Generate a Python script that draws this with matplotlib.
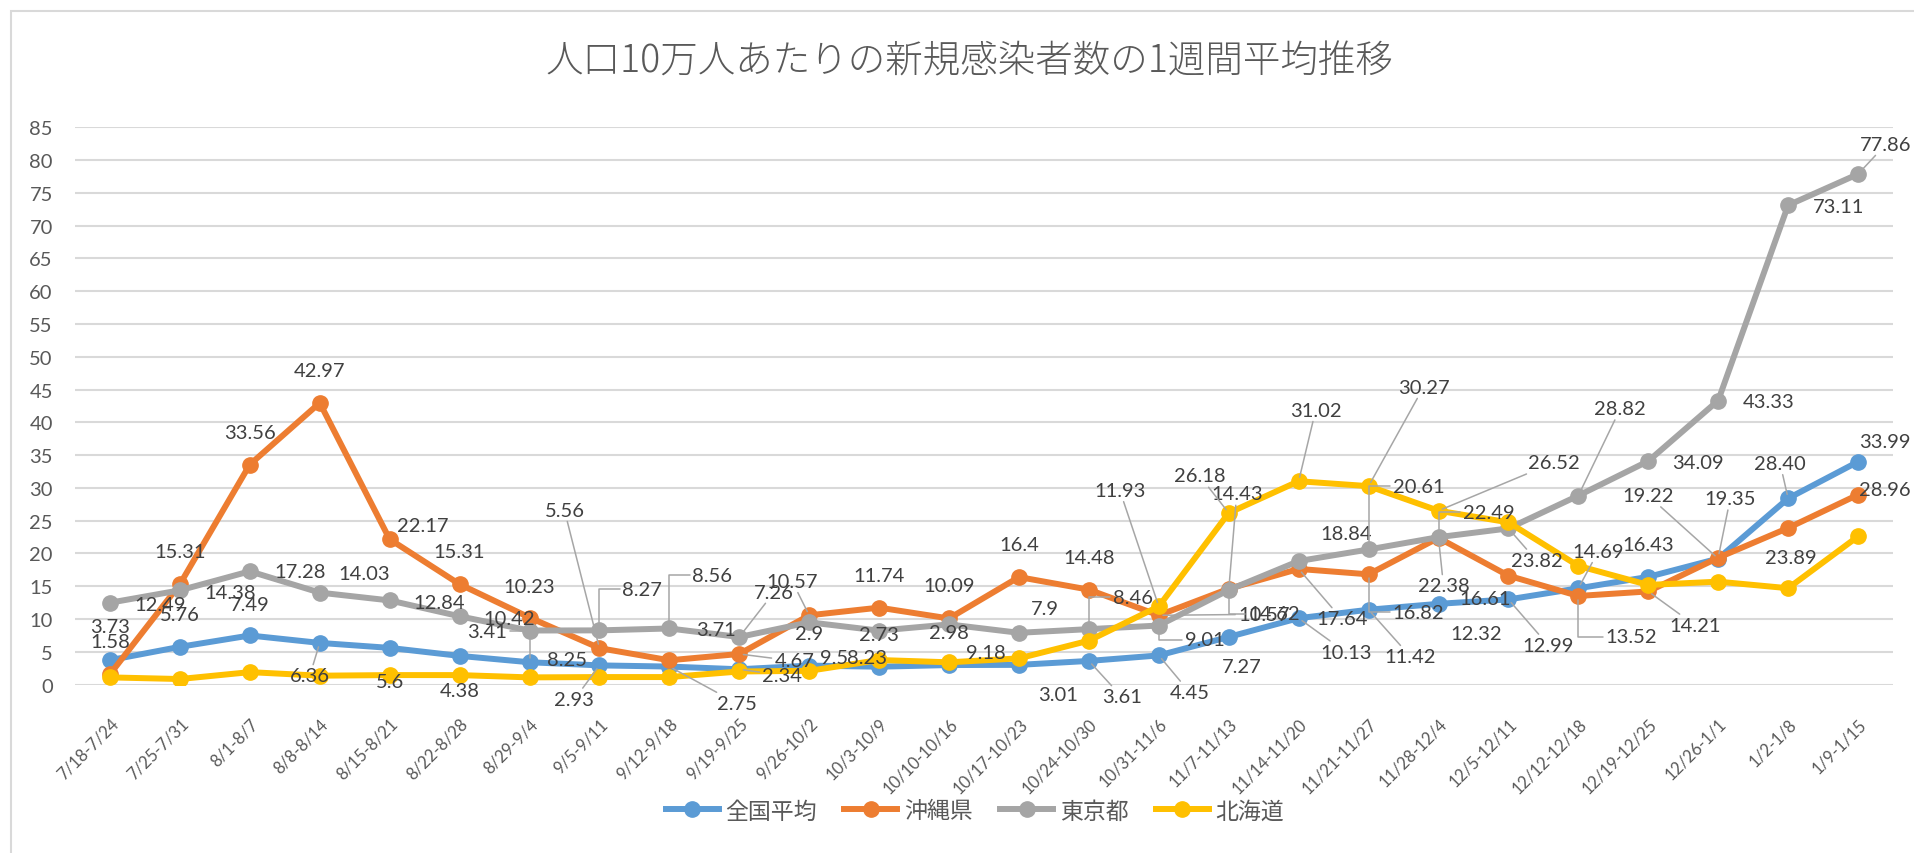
import matplotlib
matplotlib.use('Agg')
import matplotlib.pyplot as plt
from matplotlib.patches import Rectangle

plt.rcParams['font.family'] = ['Lato', 'Noto Sans CJK JP', 'DejaVu Sans']

TITLE = '人口10万人あたりの新規感染者数の1週間平均推移'

weeks = ['7/18-7/24', '7/25-7/31', '8/1-8/7', '8/8-8/14', '8/15-8/21', '8/22-8/28',
         '8/29-9/4', '9/5-9/11', '9/12-9/18', '9/19-9/25', '9/26-10/2', '10/3-10/9',
         '10/10-10/16', '10/17-10/23', '10/24-10/30', '10/31-11/6', '11/7-11/13',
         '11/14-11/20', '11/21-11/27', '11/28-12/4', '12/5-12/11', '12/12-12/18',
         '12/19-12/25', '12/26-1/1', '1/2-1/8', '1/9-1/15']

series_names = ['全国平均', '沖縄県', '東京都', '北海道']

national = [3.73, 5.76, 7.49, 6.36, 5.6, 4.38, 3.41, 2.93, 2.75, 2.34, 2.9, 2.73, 2.98,
            3.01, 3.61, 4.45, 7.27, 10.13, 11.42, 12.32, 12.99, 14.69, 16.43, 19.22,
            28.40, 33.99]
okinawa = [1.58, 15.31, 33.56, 42.97, 22.17, 15.31, 10.23, 5.56, 3.71, 4.67, 10.57,
           11.74, 10.09, 16.4, 14.48, 10.57, 14.62, 17.64, 16.82, 22.38, 16.61, 13.52,
           14.21, 19.35, 23.89, 28.96]
tokyo = [12.49, 14.38, 17.28, 14.03, 12.84, 10.42, 8.25, 8.27, 8.56, 7.26, 9.5, 8.23,
         9.18, 7.9, 8.46, 9.01, 14.43, 18.84, 20.61, 22.49, 23.82, 28.82, 34.09, 43.33,
         73.11, 77.86]
hokkaido = [1.1, 0.85, 1.9, 1.36, 1.45, 1.45, 1.1, 1.15, 1.15, 2.0, 2.1, 3.75, 3.4,
            4.0, 6.7, 11.93, 26.18, 31.02, 30.27, 26.52, 24.75, 18.1, 15.2, 15.7, 14.7,
            22.6]

# data label text (None = no label shown)
national_labels = ['3.73', '5.76', '7.49', '6.36', '5.6', '4.38', '3.41', '2.93', '2.75',
                   '2.34', '2.9', '2.73', '2.98', '3.01', '3.61', '4.45', '7.27', '10.13',
                   '11.42', '12.32', '12.99', '14.69', '16.43', '19.22', '28.40', '33.99']
okinawa_labels = ['1.58', '15.31', '33.56', '42.97', '22.17', '15.31', '10.23', '5.56',
                  '3.71', '4.67', '10.57', '11.74', '10.09', '16.4', '14.48', '10.57',
                  '14.62', '17.64', '16.82', '22.38', '16.61', '13.52', '14.21', '19.35',
                  '23.89', '28.96']
tokyo_labels = ['12.49', '14.38', '17.28', '14.03', '12.84', '10.42', '8.25', '8.27',
                '8.56', '7.26', '9.5', '8.23', '9.18', '7.9', '8.46', '9.01', '14.43',
                '18.84', '20.61', '22.49', '23.82', '28.82', '34.09', '43.33', '73.11',
                '77.86']
hokkaido_labels = [None] * 15 + ['11.93', '26.18', '31.02', '30.27', '26.52'] + [None] * 6

COLORS = ['#5B9BD5', '#ED7D31', '#A5A5A5', '#FFC000']

# label placement: index -> (dx, dy in pixels, right/down positive; leader style)
PLACE_NATIONAL = {
    0: (0, -34, None), 1: (0, -32, None), 2: (0, -31, None), 3: (-10, 33, 'line'),
    4: (0, 34, None), 5: (0, 35, None), 6: (-42, -31, 'elbow'), 7: (-25, 34, 'line'),
    8: (68, 37, 'line'), 9: (43, 6, 'line'), 10: (0, -32, None), 11: (0, -32, None),
    12: (0, -33, None), 13: (39, 30, None), 14: (33, 36, 'line'), 15: (31, 37, 'line'),
    16: (13, 30, None), 17: (47, 34, 'line'), 18: (42, 47, 'line'), 19: (38, 30, None),
    20: (40, 46, 'line'), 21: (20, -37, 'line'), 22: (0, -32, None), 23: (-70, -63, 'line'),
    24: (-8, -35, 'line'), 25: (27, -20, None),
}
PLACE_OKINAWA = {
    0: (0, -33, None), 1: (0, -33, None), 2: (0, -32, None), 3: (0, -32, None),
    4: (33, -14, None), 5: (0, -33, None), 6: (0, -31, None), 7: (-35, -138, 'line'),
    8: (47, -31, None), 9: (55, 7, 'line'), 10: (-17, -34, 'line'), 11: (0, -32, None),
    12: (0, -33, None), 13: (0, -33, None), 14: (0, -32, None), 15: (105, -1, 'line'),
    16: (45, 25, 'elbow'), 17: (43, 50, 'line'), 18: (50, 38, 'elbow'), 19: (5, 48, 'line'),
    20: (-23, 23, None), 21: (53, 41, 'elbow'), 22: (47, 34, 'line'), 23: (12, -59, 'line'),
    24: (3, 30, None), 25: (27, -5, None),
}
PLACE_TOKYO = {
    0: (50, 2, None), 1: (50, 2, None), 2: (50, 0, None), 3: (44, -19, None),
    4: (50, 2, None), 5: (50, 2, None), 6: (37, 29, None), 7: (43, -41, 'elbow'),
    8: (43, -53, 'elbow'), 9: (35, -45, 'line'), 10: (25, 35, None), 11: (-12, 27, None),
    12: (37, 28, None), 13: (26, -24, None), 14: (44, -32, 'elbow'), 15: (46, 14, 'elbow'),
    16: (8, -96, 'line'), 17: (48, -28, None), 18: (50, -63, 'elbow'), 19: (50, -25, 'elbow'),
    20: (28, 32, 'line'), 21: (42, -87, 'line'), 22: (50, 1, None), 23: (50, 1, None),
    24: (50, 1, None), 25: (28, -30, 'line'),
}
PLACE_HOKKAIDO = {
    15: (-39, -116, 'line'), 16: (-29, -37, 'line'), 17: (17, -71, 'line'),
    18: (55, -99, 'line'), 19: (115, -48, 'line'),
}

W, H = 1915, 854


def add_labels(ax, values, texts, place):
    for i, (dx, dy, style) in place.items():
        if texts[i] is None:
            continue
        props = None
        if style == 'line':
            props = dict(arrowstyle='-', color='#A6A6A6', lw=1.1, shrinkA=0, shrinkB=3)
        elif style == 'elbow':
            props = dict(arrowstyle='-', color='#A6A6A6', lw=1.1, shrinkA=0, shrinkB=3,
                         connectionstyle='angle,angleA=0,angleB=90,rad=0')
        ax.annotate(texts[i], xy=(i, values[i]), xytext=(dx, -dy),
                    textcoords='offset pixels', ha='center', va='center',
                    fontsize=14.5, color='#404040', arrowprops=props,
                    annotation_clip=False, zorder=6)


def main():
    fig = plt.figure(figsize=(W / 100, H / 100), dpi=100)
    fig.patch.set_facecolor('white')
    ax = fig.add_axes([75 / W, (H - 685.6) / H, (1893 - 75) / W, (685.6 - 128.3) / H])

    x = list(range(len(weeks)))
    all_vals = [national, okinawa, tokyo, hokkaido]
    for vals, name, color in zip(all_vals, series_names, COLORS):
        ax.plot(x, vals, color=color, lw=4.3, marker='o', ms=11, label=name,
                solid_joinstyle='round', zorder=3)

    ax.set_xlim(-0.5, len(weeks) - 0.5)
    ax.set_ylim(0, 85)
    ax.set_yticks(range(0, 90, 5))
    ax.grid(axis='y', color='#D9D9D9', lw=1.5)
    ax.set_axisbelow(True)
    for sp in ax.spines.values():
        sp.set_visible(False)
    ax.tick_params(axis='both', length=0, colors='#595959')
    ax.tick_params(axis='y', labelsize=14.5, pad=16)
    ax.set_xticks(x)
    ax.set_xticklabels(weeks, rotation=45, ha='right', rotation_mode='anchor',
                       fontsize=12, color='#595959')
    ax.tick_params(axis='x', pad=22)

    add_labels(ax, national, national_labels, PLACE_NATIONAL)
    add_labels(ax, okinawa, okinawa_labels, PLACE_OKINAWA)
    add_labels(ax, tokyo, tokyo_labels, PLACE_TOKYO)
    add_labels(ax, hokkaido, hokkaido_labels, PLACE_HOKKAIDO)

    fig.text(969 / W, 1 - 62 / H, TITLE, ha='center', va='center', fontsize=27,
             color='#595959', family=['Noto Sans CJK JP', 'DejaVu Sans'], fontweight='light')

    leg = fig.legend(loc='center', bbox_to_anchor=(975 / W, 1 - 812 / H), ncol=4,
                     frameon=False, handlelength=2.3, handletextpad=0.3,
                     columnspacing=1.2, prop={'family': ['Noto Sans CJK JP'], 'size': 16.5})
    for t in leg.get_texts():
        t.set_color('#595959')

    fig.add_artist(Rectangle((11 / W, -0.1), 1.2, (H - 12) / H + 0.1,
                             transform=fig.transFigure, fill=False,
                             ec='#D9D9D9', lw=1.5))

    fig.savefig('out.png', dpi=100)


if __name__ == '__main__':
    main()
